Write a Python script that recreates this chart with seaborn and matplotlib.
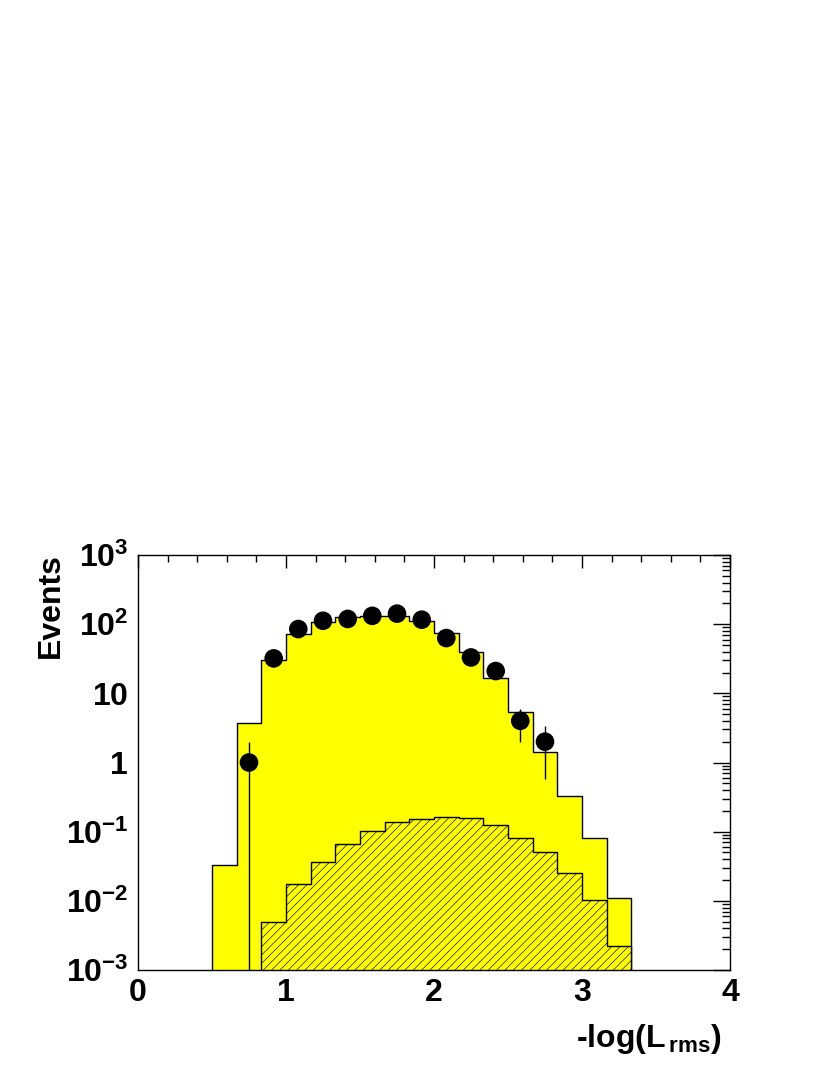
import numpy as np
import matplotlib
matplotlib.use("Agg")
import matplotlib.pyplot as plt
from matplotlib.ticker import MultipleLocator, LogLocator, FixedLocator, FuncFormatter, NullFormatter
import seaborn as sns

# ---- data ----
bin_edges_mc = list(np.linspace(0.5, 10 / 3, 18))          # 17 bins of width 1/6
mc_total = [0.033, 3.7, 30, 72, 107, 126, 130, 133, 111, 74, 39, 16.6, 5.3, 1.4, 0.33, 0.082, 0.011]

bin_edges_bkg = list(np.linspace(5 / 6, 10 / 3, 16))        # 15 bins of width 1/6
mc_bkg = [0.0050, 0.0175, 0.037, 0.066, 0.102, 0.137, 0.153, 0.162, 0.157, 0.126,
          0.082, 0.050, 0.0255, 0.0104, 0.0022]

data_x = [0.75, 0.917, 1.083, 1.25, 1.417, 1.583, 1.75, 1.917, 2.083, 2.25, 2.417, 2.583, 2.75]
data_n = [1, 32, 85, 112, 119, 132, 142, 116, 63, 33, 21, 4, 2]

x_ticks = [0, 1, 2, 3, 4]
y_ticks = [1e-3, 1e-2, 1e-1, 1, 10, 1e2, 1e3]

# ---- style ----
sns.set_theme(style="white")
plt.rcParams["font.family"] = ["Liberation Sans", "DejaVu Sans"]
plt.rcParams["font.weight"] = "bold"
plt.rcParams["text.color"] = "black"
plt.rcParams["axes.labelcolor"] = "black"
plt.rcParams["xtick.color"] = "black"
plt.rcParams["ytick.color"] = "black"
plt.rcParams["mathtext.fontset"] = "custom"
plt.rcParams["mathtext.rm"] = "Liberation Sans:bold"
plt.rcParams["mathtext.it"] = "Liberation Sans:bold"
plt.rcParams["mathtext.bf"] = "Liberation Sans:bold"
plt.rcParams["mathtext.default"] = "rm"
plt.rcParams["hatch.linewidth"] = 0.45

FS = 23

fig = plt.figure(figsize=(8.3, 10.75), dpi=100)
ax = fig.add_axes([138 / 830, 1 - 970 / 1075, 592 / 830, 415 / 1075])
ax.set_yscale("log")

e_mc = np.array(bin_edges_mc)
e_bkg = np.array(bin_edges_bkg)
centers_mc = list(0.5 * (e_mc[:-1] + e_mc[1:]))
centers_bkg = list(0.5 * (e_bkg[:-1] + e_bkg[1:]))

sns.histplot(x=centers_mc, weights=mc_total, bins=bin_edges_mc, element="step",
             fill=True, color="#ffff00", alpha=1, edgecolor="black", linewidth=1.0, ax=ax)
sns.histplot(x=centers_bkg, weights=mc_bkg, bins=bin_edges_bkg, element="step",
             fill=True, facecolor="#ffff00", alpha=1, edgecolor="black", linewidth=1.0,
             hatch="////", ax=ax)

dx = np.array(data_x)
dn = np.array(data_n, dtype=float)
err = np.sqrt(dn)
ax.vlines(dx, dn - err, dn + err, color="black", linewidth=1.0, zorder=3)
sns.scatterplot(x=dx, y=dn, s=180, color="black", edgecolor="none", zorder=4, ax=ax)

ax.set_xlim(0, 4)
ax.set_ylim(1e-3, 1e3)

ax.xaxis.set_major_locator(FixedLocator(x_ticks))
ax.xaxis.set_minor_locator(MultipleLocator(0.2))
ax.yaxis.set_major_locator(FixedLocator(y_ticks))
ax.yaxis.set_minor_locator(LogLocator(base=10, subs=np.arange(2, 10)))
ax.yaxis.set_minor_formatter(NullFormatter())


def yfmt(v, pos):
    e = int(round(np.log10(v)))
    if e == 0:
        return r"$1\;\,$"
    if e == 1:
        return r"$10\;\,$"
    return r"$10^{%d}$" % e


ax.yaxis.set_major_formatter(FuncFormatter(yfmt))
ax.xaxis.set_major_formatter(FuncFormatter(lambda v, p: "%d" % v))

ax.tick_params(axis="both", which="both", direction="in", top=True, right=True,
               colors="black", labelcolor="black", width=1.0)
ax.tick_params(axis="x", which="major", length=9, pad=6, labelsize=FS)
ax.tick_params(axis="x", which="minor", length=5)
ax.tick_params(axis="y", which="major", length=12, pad=7, labelsize=FS)
ax.tick_params(axis="y", which="minor", length=6)
for lab in ax.get_xticklabels() + ax.get_yticklabels():
    lab.set_fontweight("bold")

for s in ax.spines.values():
    s.set_color("black")
    s.set_linewidth(1.0)
    s.set_visible(True)

ax.set_ylabel("Events", fontsize=FS, fontweight="bold", color="black", loc="top")
ax.yaxis.set_label_coords(-0.122, 1.005)
ax.set_xlabel(r"-log(L$_{\,rms}$)", fontsize=FS, fontweight="bold", color="black", loc="right")
ax.xaxis.set_label_coords(0.985, -0.125)

fig.savefig("out.png", dpi=100)
